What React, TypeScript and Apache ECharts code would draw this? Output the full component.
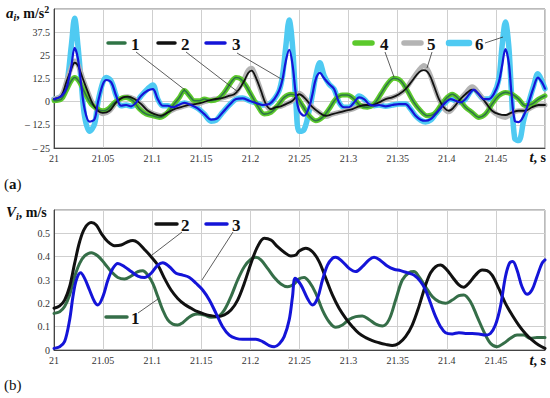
import React, { useEffect, useRef } from 'react';
import * as echarts from 'echarts';

const FONT = 'Liberation Serif';

// ---------- Chart (a): accelerations a_i, m/s^2 ----------
// series 1 (thin dark green) / series 4 (thick bright green)
const a1: number[][] = [
  [21.0, 0.5], [21.0075, 1.4], [21.0125, 6], [21.0176, 11.3], [21.021, 13], [21.0261, 10.4], [21.0312, 5],
  [21.0379, -1.3], [21.0447, -4], [21.0498, -4.9], [21.0549, -4], [21.0617, -0.4], [21.0684, 1.8], [21.0735, 2.3],
  [21.0803, 0.5], [21.0871, -4], [21.0938, -6.7], [21.1006, -7.6], [21.1074, -8.5], [21.1142, -6.7], [21.1209, -2.2],
  [21.1277, 2.3], [21.1328, 6], [21.1379, 3.2], [21.143, 0.5], [21.148, 0.5], [21.1531, 1.4], [21.1599, 0.5],
  [21.1667, 1.4], [21.1734, 5], [21.1802, 10.4], [21.1853, 13], [21.1904, 12.2], [21.1955, 8.6], [21.2005, 4],
  [21.2073, -2.2], [21.2141, -6.7], [21.2209, -5.8], [21.2276, -2.2], [21.2344, 2.3], [21.2412, 4], [21.2463, 3.2],
  [21.2531, -2.2], [21.2598, -7.6], [21.2666, -10.3], [21.2734, -8.5], [21.2801, -4], [21.2869, 1.4], [21.2937, 3.6],
  [21.2988, 3.6], [21.3056, 1.4], [21.3123, -2.2], [21.3191, -3], [21.3259, -1.3], [21.3327, 4], [21.3394, 9.5],
  [21.3462, 12.6], [21.353, 11.3], [21.3597, 6], [21.3665, -0.4], [21.3733, -4.9], [21.3801, -7.6], [21.3869, -6.7],
  [21.3936, -2.2], [21.4004, 2.3], [21.4055, 4], [21.4123, 1.4], [21.419, -3], [21.4258, -5.8], [21.4326, -8.5],
  [21.4394, -6.7], [21.4461, -1.3], [21.4529, 3.2], [21.4597, 5], [21.4665, 4], [21.4732, 1.4], [21.48, -2.2],
  [21.4867, -1.3], [21.4935, 1.4], [21.5, 3.2],
];
const a4: number[][] = a1;

// series 2 (thin black)
const a2: number[][] = [
  [21.0, 1.4], [21.0075, 3.2], [21.0125, 10.4], [21.0176, 17.6], [21.021, 21], [21.0244, 19.4], [21.0295, 12.2],
  [21.0346, 5], [21.0396, -1.3], [21.0447, -4.9], [21.0498, -6.1], [21.0566, -4.9], [21.0633, -0.4], [21.0701, 2.3],
  [21.0752, 2.7], [21.082, 1.4], [21.0888, -1.3], [21.0955, -4.9], [21.1023, -6.7], [21.1091, -7.6], [21.1159, -5.8],
  [21.1226, -4], [21.1294, -3], [21.1362, -1.8], [21.143, -1.3], [21.1497, -0.7], [21.1565, 0.5], [21.1633, 1.4],
  [21.17, 1.8], [21.1768, 2.9], [21.1836, 4], [21.1887, 6.8], [21.1938, 11.3], [21.1978, 15.5], [21.2012, 16.7],
  [21.2056, 13], [21.2107, 6], [21.2158, -1.3], [21.2209, -4], [21.226, -3], [21.231, -2.5], [21.2361, -1.3],
  [21.2429, 0.5], [21.2497, 4], [21.2564, 1.4], [21.2632, -3], [21.27, -5.8], [21.2768, -7.6], [21.2835, -6.7],
  [21.2903, -5.8], [21.2971, -4.9], [21.3039, -4], [21.3106, -2.5], [21.3174, -1.8], [21.3242, -1.8], [21.331, -0.4],
  [21.3377, 1.4], [21.3445, 2.3], [21.3513, 4], [21.358, 6.8], [21.3648, 11.3], [21.3716, 15.8], [21.3767, 17],
  [21.3818, 15], [21.3869, 8.6], [21.392, 1.4], [21.397, -3], [21.4021, -4.9], [21.4072, -3], [21.4123, 0.5],
  [21.419, 4], [21.4258, 6.5], [21.4326, 4], [21.4394, -0.4], [21.4461, -4.9], [21.4529, -6.7], [21.4597, -7.2],
  [21.4665, -5.8], [21.4732, -4.9], [21.48, -4.9], [21.4867, -3], [21.4935, -1.8], [21.5, -1.8],
];

// series 5 (thick grey)
const a5: number[][] = [
  [21.0, 1.4], [21.0075, 3.2], [21.0125, 10.4], [21.0176, 18.5], [21.021, 22], [21.0244, 20], [21.0295, 12.2],
  [21.0346, 5], [21.0396, -1.3], [21.0447, -4.9], [21.0498, -6.5], [21.0566, -4.9], [21.0633, -0.4], [21.0701, 2.3],
  [21.0752, 2.7], [21.082, 1.4], [21.0888, -1.3], [21.0955, -4.9], [21.1023, -6.7], [21.1091, -7.6], [21.1159, -5.8],
  [21.1226, -4], [21.1294, -3], [21.1362, -1.8], [21.143, -1.3], [21.1497, -0.7], [21.1565, 0.5], [21.1633, 1.4],
  [21.17, 1.8], [21.1768, 2.9], [21.1836, 4], [21.1887, 7.5], [21.1938, 12.5], [21.1978, 17], [21.2012, 18],
  [21.2056, 13.5], [21.2107, 6], [21.2158, -1.3], [21.2209, -4.5], [21.226, -3], [21.231, -2.5], [21.2361, -1.3],
  [21.2429, 0.5], [21.2497, 4.5], [21.2564, 1.4], [21.2632, -3], [21.27, -5.8], [21.2768, -8], [21.2835, -6.7],
  [21.2903, -5.8], [21.2971, -4.9], [21.3039, -4], [21.3106, -2.5], [21.3174, -1.8], [21.3242, -1.8], [21.331, -0.4],
  [21.3377, 1.4], [21.3445, 2.3], [21.3513, 4], [21.358, 6.8], [21.3648, 12], [21.3716, 17], [21.3767, 19.5],
  [21.3818, 16], [21.3869, 8.6], [21.392, 1.4], [21.397, -3.5], [21.4021, -5.5], [21.4072, -3], [21.4123, 0.5],
  [21.419, 4.5], [21.4258, 8], [21.4326, 4.5], [21.4394, -0.4], [21.4461, -4.9], [21.4529, -7.5], [21.4597, -8.5],
  [21.4665, -6], [21.4732, -4.9], [21.48, -4.9], [21.4867, -3], [21.4935, -1.8], [21.5, -1.8],
];

// series 3 (blue)
const a3: number[][] = [
  [21.0, 1.4], [21.0075, 3], [21.0125, 7], [21.0176, 19], [21.021, 29], [21.0244, 23], [21.0278, 8.6],
  [21.0312, -4], [21.0362, -10.8], [21.0413, -9.4], [21.0447, -0.4], [21.0498, 9.5], [21.0532, 11.7], [21.0583, 10.4],
  [21.0633, 3.2], [21.0684, -2.2], [21.0735, -1.8], [21.0786, -2.5], [21.0837, -0.4], [21.0888, 3.2], [21.0955, 6],
  [21.1006, 6.8], [21.1057, 1.4], [21.1108, -2.2], [21.1159, -2.2], [21.1209, -3], [21.126, -2], [21.1328, -0.7],
  [21.1396, -1.8], [21.1463, -3.6], [21.1531, -6.7], [21.1599, -9.7], [21.165, -9.4], [21.1717, -5.8], [21.1785, -1.8],
  [21.1853, 1.4], [21.1921, 1.8], [21.1989, 0.5], [21.2056, -0.7], [21.2124, -1.8], [21.2192, -1.3], [21.2243, 1.4],
  [21.2293, 6], [21.2327, 12], [21.2361, 22], [21.2395, 28], [21.2429, 20], [21.2463, 4], [21.2497, -5],
  [21.2547, -7.6], [21.2598, -3], [21.2632, 4], [21.2666, 12.2], [21.2707, 15.5], [21.2751, 12.6], [21.2801, 9.5],
  [21.2852, 6.8], [21.2903, -0.4], [21.2954, -3], [21.3005, -3], [21.3056, -0.4], [21.3106, 2.3], [21.3157, 1.4],
  [21.3208, -1.3], [21.3259, -2.2], [21.331, -1.8], [21.3377, -2.5], [21.3445, -1.8], [21.3513, -1.3], [21.358, -1.3],
  [21.3631, -4], [21.3682, -7.6], [21.3733, -9.7], [21.3784, -10.3], [21.3835, -9.4], [21.3886, -6.7], [21.3936, -3.6],
  [21.3987, -0.4], [21.4038, 1.4], [21.4089, 0.5], [21.414, -0.4], [21.419, 1.4], [21.4241, 5], [21.4275, 6.5],
  [21.4326, 4], [21.4377, 1.4], [21.4427, 1.4], [21.4478, 4], [21.4529, 10.4], [21.4563, 19.4], [21.4597, 28.4],
  [21.4631, 21], [21.4658, 5], [21.4692, -10.3], [21.4732, -11], [21.4783, -7.6], [21.4834, -0.4], [21.4884, 7.7],
  [21.4928, 13], [21.4969, 10.4], [21.5, 7],
];

// series 6 (thick cyan)
const a6: number[][] = [
  [21.0, 1.4], [21.0075, 3], [21.0125, 8], [21.0176, 30], [21.021, 45], [21.0244, 30], [21.0278, 10],
  [21.0312, -8], [21.0362, -16], [21.0413, -12], [21.0447, -0.4], [21.0498, 10.5], [21.0532, 13], [21.0583, 11],
  [21.0633, 3.2], [21.0684, -2.2], [21.0735, -1.8], [21.0786, -2.5], [21.0837, -0.4], [21.0888, 3.2], [21.0955, 7],
  [21.1006, 9], [21.1057, 1.4], [21.1108, -2.2], [21.1159, -2.2], [21.1209, -3], [21.126, -2], [21.1328, -0.7],
  [21.1396, -1.8], [21.1463, -3.6], [21.1531, -6.7], [21.1599, -10.5], [21.165, -10], [21.1717, -5.8], [21.1785, -1.8],
  [21.1853, 1.4], [21.1921, 2], [21.1989, 0.5], [21.2056, -0.7], [21.2124, -1.8], [21.2192, -1.3], [21.2243, 1.4],
  [21.2293, 6], [21.2327, 14], [21.2361, 30], [21.2395, 44], [21.2429, 30], [21.2463, 0], [21.2497, -16],
  [21.2547, -15], [21.2598, -5], [21.2632, 4], [21.2666, 14], [21.2707, 21], [21.2751, 14], [21.2801, 9.5],
  [21.2852, 6.8], [21.2903, -0.4], [21.2954, -3], [21.3005, -3], [21.3056, -0.4], [21.3106, 3], [21.3157, 1.4],
  [21.3208, -1.3], [21.3259, -2.2], [21.331, -1.8], [21.3377, -2.5], [21.3445, -1.8], [21.3513, -1.3], [21.358, -1.3],
  [21.3631, -4], [21.3682, -7.6], [21.3733, -10], [21.3784, -11], [21.3835, -10], [21.3886, -6.7], [21.3936, -3.6],
  [21.3987, -0.4], [21.4038, 1.4], [21.4089, 0.5], [21.414, -0.4], [21.419, 1.4], [21.4241, 5.5], [21.4275, 7],
  [21.4326, 4], [21.4377, 1.4], [21.4427, 1.4], [21.4478, 4], [21.4529, 12], [21.4563, 30], [21.4597, 43],
  [21.4631, 30], [21.4658, 5], [21.4692, -20], [21.4732, -21], [21.4783, -10], [21.4834, -0.4], [21.4884, 8.5],
  [21.4928, 15], [21.4969, 11], [21.5, 7],
];

// ---------- Chart (b): velocities V_i, m/s ----------
const b1: number[][] = [
  [21.0, 0.157], [21.0058, 0.164], [21.0108, 0.186], [21.0159, 0.236], [21.021, 0.314], [21.0261, 0.371],
  [21.0312, 0.403], [21.0379, 0.417], [21.0447, 0.403], [21.0515, 0.371], [21.0583, 0.336], [21.065, 0.311],
  [21.0718, 0.304], [21.0786, 0.317], [21.0854, 0.336], [21.0904, 0.34], [21.0955, 0.321], [21.1006, 0.286],
  [21.1057, 0.229], [21.1108, 0.171], [21.1159, 0.129], [21.1209, 0.111], [21.126, 0.107], [21.1311, 0.117],
  [21.1362, 0.136], [21.1413, 0.15], [21.1463, 0.154], [21.1531, 0.15], [21.1599, 0.14], [21.1667, 0.143],
  [21.1734, 0.171], [21.1802, 0.229], [21.187, 0.3], [21.1938, 0.357], [21.2005, 0.389], [21.2056, 0.397],
  [21.2107, 0.386], [21.2175, 0.35], [21.2243, 0.311], [21.231, 0.283], [21.2378, 0.271], [21.2446, 0.283],
  [21.2497, 0.305], [21.2547, 0.311], [21.2598, 0.293], [21.2666, 0.243], [21.2734, 0.171], [21.2801, 0.121],
  [21.2869, 0.097], [21.2937, 0.107], [21.3005, 0.131], [21.3073, 0.143], [21.314, 0.146], [21.3208, 0.131],
  [21.3276, 0.111], [21.3344, 0.103], [21.3411, 0.129], [21.3479, 0.214], [21.3547, 0.3], [21.3614, 0.331],
  [21.3665, 0.336], [21.3716, 0.314], [21.3784, 0.271], [21.3852, 0.229], [21.392, 0.207], [21.3987, 0.2],
  [21.4055, 0.214], [21.4123, 0.233], [21.4173, 0.236], [21.4241, 0.207], [21.4309, 0.143], [21.4377, 0.079],
  [21.4444, 0.029], [21.4512, 0.014], [21.458, 0.029], [21.4648, 0.05], [21.4715, 0.064], [21.4783, 0.064],
  [21.485, 0.05], [21.4918, 0.054], [21.5, 0.054],
];

const b2: number[][] = [
  [21.0, 0.179], [21.0058, 0.189], [21.0108, 0.214], [21.0159, 0.271], [21.021, 0.371], [21.0261, 0.464],
  [21.0312, 0.521], [21.0379, 0.546], [21.043, 0.536], [21.0481, 0.5], [21.0549, 0.464], [21.0617, 0.447],
  [21.0684, 0.45], [21.0752, 0.464], [21.0803, 0.469], [21.0854, 0.46], [21.0921, 0.431], [21.0989, 0.4],
  [21.1057, 0.364], [21.1125, 0.307], [21.1192, 0.257], [21.126, 0.221], [21.1328, 0.196], [21.1396, 0.179],
  [21.1463, 0.164], [21.1531, 0.154], [21.1599, 0.147], [21.1667, 0.143], [21.1734, 0.15], [21.1802, 0.171],
  [21.187, 0.214], [21.1938, 0.286], [21.2005, 0.371], [21.2073, 0.443], [21.2141, 0.479], [21.2209, 0.471],
  [21.2276, 0.443], [21.2344, 0.419], [21.2412, 0.403], [21.2463, 0.407], [21.2497, 0.424], [21.2564, 0.436],
  [21.2632, 0.421], [21.27, 0.379], [21.2768, 0.307], [21.2835, 0.236], [21.2903, 0.179], [21.2971, 0.136],
  [21.3039, 0.1], [21.3106, 0.071], [21.3174, 0.053], [21.3242, 0.04], [21.331, 0.031], [21.3377, 0.024],
  [21.3445, 0.019], [21.3513, 0.029], [21.358, 0.057], [21.3648, 0.107], [21.3716, 0.186], [21.3784, 0.279],
  [21.3835, 0.331], [21.3886, 0.357], [21.3936, 0.364], [21.3987, 0.35], [21.4055, 0.314], [21.4123, 0.279],
  [21.4173, 0.269], [21.4224, 0.286], [21.4292, 0.321], [21.436, 0.343], [21.441, 0.34], [21.4461, 0.321],
  [21.4529, 0.264], [21.4597, 0.2], [21.4665, 0.15], [21.4732, 0.107], [21.48, 0.071], [21.4867, 0.043],
  [21.4935, 0.021], [21.5, 0.007],
];

const b3: number[][] = [
  [21.0, 0.007], [21.0058, 0.014], [21.0108, 0.036], [21.0159, 0.129], [21.0193, 0.229], [21.0227, 0.3],
  [21.0271, 0.331], [21.0312, 0.307], [21.0362, 0.257], [21.0413, 0.207], [21.0447, 0.193], [21.0498, 0.229],
  [21.0549, 0.3], [21.06, 0.35], [21.065, 0.371], [21.0718, 0.357], [21.0786, 0.336], [21.0854, 0.317],
  [21.0921, 0.311], [21.0989, 0.329], [21.1057, 0.364], [21.1108, 0.374], [21.1175, 0.357], [21.1243, 0.329],
  [21.1311, 0.321], [21.1379, 0.311], [21.1446, 0.286], [21.1514, 0.257], [21.1582, 0.214], [21.165, 0.157],
  [21.1717, 0.1], [21.1785, 0.064], [21.1853, 0.05], [21.1921, 0.046], [21.1989, 0.046], [21.2056, 0.046],
  [21.2124, 0.036], [21.2192, 0.019], [21.2243, 0.014], [21.2293, 0.026], [21.2344, 0.057], [21.2395, 0.129],
  [21.2429, 0.229], [21.2456, 0.307], [21.2514, 0.279], [21.2581, 0.221], [21.2632, 0.193], [21.2683, 0.221],
  [21.2734, 0.3], [21.2785, 0.364], [21.2835, 0.393], [21.2869, 0.397], [21.2937, 0.379], [21.3005, 0.35],
  [21.3073, 0.336], [21.314, 0.357], [21.3208, 0.386], [21.3259, 0.397], [21.3327, 0.383], [21.3394, 0.36],
  [21.3462, 0.346], [21.353, 0.34], [21.3597, 0.331], [21.3665, 0.321], [21.3733, 0.293], [21.3784, 0.257],
  [21.3835, 0.2], [21.3886, 0.143], [21.3936, 0.1], [21.3987, 0.074], [21.4055, 0.069], [21.4123, 0.074],
  [21.419, 0.071], [21.4258, 0.071], [21.4326, 0.069], [21.4394, 0.064], [21.4444, 0.071], [21.4495, 0.107],
  [21.4546, 0.186], [21.4597, 0.314], [21.4637, 0.371], [21.4671, 0.379], [21.4715, 0.343], [21.4766, 0.271],
  [21.4817, 0.239], [21.4867, 0.257], [21.4918, 0.314], [21.4969, 0.371], [21.5, 0.386],
];

const X_MIN = 21;
const X_MAX = 21.5;
const X_STEP = 0.05;
const A_MIN = -25;
const A_MAX = 50;
const A_STEP = 12.5;
const V_MIN = 0;
const V_MAX = 0.6;
const V_STEP = 0.1;

const C_DKGREEN = '#2f7445';
const C_BLACK = '#111111';
const C_BLUE = '#1414d8';
const C_LTGREEN = '#5cc92c';
const C_GREY = '#b4b4b4';
const C_CYAN = '#4fcaf2';
const C_VGREEN = '#356e48';

export default function App() {
  const ref = useRef<HTMLDivElement>(null);

  useEffect(() => {
    if (!ref.current) return;
    const chart = echarts.init(ref.current, null, { renderer: 'svg' });

    const fmtX = (v: number) => (Math.abs(v - X_MAX) < 1e-6 ? '' : String(parseFloat(v.toFixed(2))));
    const fmtA = (v: number) => {
      if (Math.abs(v - A_MAX) < 1e-6) return '';
      if (v < 0) return '\u2013 ' + Math.abs(v);
      return String(v);
    };
    const fmtV = (v: number) => (Math.abs(v - V_MAX) < 1e-6 ? '' : String(parseFloat(v.toFixed(1))));

    const labelStyle = { fontFamily: FONT, fontSize: 10, color: '#333' };
    const mkX = (gi: number) => ({
      type: 'value', gridIndex: gi, min: X_MIN, max: X_MAX, interval: X_STEP,
      axisLine: { show: true, onZero: false, lineStyle: { color: '#444', width: 1 } },
      axisTick: { show: false },
      splitLine: { show: true, lineStyle: { color: '#cfcfcf', width: 1 } },
      axisLabel: { ...labelStyle, margin: 5, formatter: fmtX },
    });
    const mkY = (gi: number, min: number, max: number, step: number, fmt: (v: number) => string) => ({
      type: 'value', gridIndex: gi, min, max, interval: step,
      axisLine: { show: true, onZero: false, lineStyle: { color: '#444', width: 1 } },
      axisTick: { show: false },
      splitLine: { show: true, lineStyle: { color: '#cfcfcf', width: 1 } },
      axisLabel: { ...labelStyle, margin: 4, formatter: fmt },
    });

    const mkS = (name: string, data: number[][], color: string, width: number, idx: number) => ({
      type: 'line', name, data, xAxisIndex: idx, yAxisIndex: idx,
      showSymbol: false, symbol: 'none', smooth: 0.35, silent: true,
      lineStyle: { color, width, cap: 'round', join: 'round' },
      itemStyle: { color },
    });

    const legLine = (x1: number, x2: number, y: number, color: string, w: number) => ({
      type: 'line', shape: { x1, y1: y, x2, y2: y }, style: { stroke: color, lineWidth: w, lineCap: 'round' }, z: 100,
    });
    const legText = (x: number, y: number, t: string) => ({
      type: 'text', x, y, z: 100,
      style: { text: t, fontFamily: FONT, fontWeight: 'bold', fontSize: 17, fill: '#111', verticalAlign: 'middle', align: 'left' },
    });
    const leader = (x1: number, y1: number, x2: number, y2: number) => ({
      type: 'line', shape: { x1, y1, x2, y2 }, style: { stroke: '#333', lineWidth: 0.8 }, z: 100,
    });

    const rich = {
      it: { fontFamily: FONT, fontWeight: 'bold', fontStyle: 'italic', fontSize: 15, fill: '#111', lineHeight: 20, verticalAlign: 'middle' },
      sub: { fontFamily: FONT, fontWeight: 'bold', fontStyle: 'italic', fontSize: 10, fill: '#111', lineHeight: 20, verticalAlign: 'bottom', padding: [0, 0, 1, 0] },
      n: { fontFamily: FONT, fontWeight: 'bold', fontSize: 14, fill: '#111', lineHeight: 20, verticalAlign: 'middle' },
      sup: { fontFamily: FONT, fontWeight: 'bold', fontSize: 10, fill: '#111', lineHeight: 20, verticalAlign: 'top', padding: [1, 0, 0, 0] },
      p: { fontFamily: FONT, fontSize: 15, fill: '#111', lineHeight: 20, verticalAlign: 'middle' },
      pb: { fontFamily: FONT, fontWeight: 'bold', fontSize: 15, fill: '#111', lineHeight: 20, verticalAlign: 'middle' },
    };
    const richText = (x: number, y: number, text: string, align = 'left') => ({
      type: 'text', x, y, z: 100,
      style: { text, rich, align, verticalAlign: 'middle', fontFamily: FONT },
    });

    chart.setOption({
      animation: false,
      backgroundColor: '#ffffff',
      textStyle: { fontFamily: FONT },
      grid: [
        { left: 54, top: 9, width: 491, height: 139, show: true, borderColor: '#777', borderWidth: 1, backgroundColor: 'transparent' },
        { left: 54, top: 210, width: 491, height: 140, show: true, borderColor: '#777', borderWidth: 1, backgroundColor: 'transparent' },
      ],
      xAxis: [mkX(0), mkX(1)],
      yAxis: [mkY(0, A_MIN, A_MAX, A_STEP, fmtA), mkY(1, V_MIN, V_MAX, V_STEP, fmtV)],
      series: [
        mkS('6', a6, C_CYAN, 5.5, 0),
        mkS('5', a5, C_GREY, 5, 0),
        mkS('4', a4, C_LTGREEN, 5, 0),
        mkS('1', a1, C_DKGREEN, 1.6, 0),
        mkS('2', a2, C_BLACK, 1.8, 0),
        mkS('3', a3, C_BLUE, 2.2, 0),
        mkS('1', b1, C_VGREEN, 3, 1),
        mkS('2', b2, C_BLACK, 3, 1),
        mkS('3', b3, C_BLUE, 3, 1),
      ],
      graphic: [
        // chart (a) legend
        legLine(108, 125, 43, C_DKGREEN, 3.5), legText(131, 44, '1'),
        legLine(158, 175, 43, C_BLACK, 3.5), legText(181, 44, '2'),
        legLine(206, 225, 43, C_BLUE, 3.5), legText(232, 44, '3'),
        legLine(355, 372, 43, C_LTGREEN, 5.5), legText(380, 44, '4'),
        legLine(404, 421, 43, C_GREY, 5.5), legText(427, 44, '5'),
        legLine(449, 469, 43, C_CYAN, 6.5), legText(475, 44, '6'),
        leader(136, 52, 185, 90),
        leader(186, 52, 238, 92),
        leader(237, 53, 283, 80),
        leader(385, 52, 394, 77),
        leader(432, 52, 427, 68),
        leader(485, 43, 503, 37),
        // chart (b) legend
        legLine(156, 177, 224, C_BLACK, 3.5), legText(181, 225, '2'),
        legLine(206, 227, 224, C_BLUE, 3.5), legText(232, 225, '3'),
        legLine(106, 127, 317, C_VGREEN, 3.5), legText(131, 318, '1'),
        leader(182, 232, 152, 255),
        leader(233, 232, 202, 280),
        leader(138, 313, 158, 299),
        // axis titles
        richText(6, 13, '{it|a}{sub|i}{n|, m/s}{sup|2}'),
        richText(6, 212, '{it|V}{sub|i}{n|, m/s}'),
        richText(546, 157, '{it|t}{n|, s}', 'right'),
        richText(546, 360, '{it|t}{n|, s}', 'right'),
        richText(4, 184, '{p|(}{pb|a}{p|)}'),
        richText(4, 385, '{p|(b)}'),
      ],
    });

    return () => chart.dispose();
  }, []);

  return (
    <div
      ref={ref}
      style={{ position: 'absolute', left: 0, top: 0, width: 550, height: 398, background: '#fff' }}
    />
  );
}
